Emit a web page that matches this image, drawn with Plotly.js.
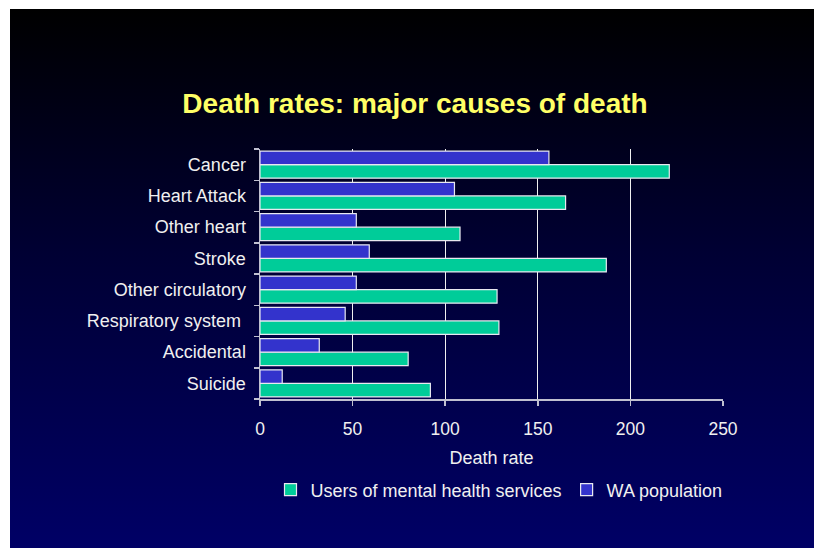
<!DOCTYPE html>
<html>
<head>
<meta charset="utf-8">
<script src="https://cdn.plot.ly/plotly-3.0.1.min.js"></script>
<style>
  html, body { margin: 0; padding: 0; background: #ffffff; }
  #bg { position: absolute; left: 10px; top: 9px; width: 804px; height: 539px;
        background: linear-gradient(to bottom, #000000 0%, #000033 45%, #000066 100%); }
  #chart { position: absolute; left: 0; top: 0; width: 814px; height: 548px; }
</style>
</head>
<body>
<div id="bg"></div>
<div id="chart"></div>
<script>
const categories = ["Cancer", "Heart Attack", "Other heart", "Stroke", "Other circulatory", "Respiratory system\u00a0", "Accidental", "Suicide"];
const usersMH = [221, 165, 108, 187, 128, 129, 80, 92];
const waPop = [156, 105, 52, 59, 52, 46, 32, 12];
const xTicks = [0, 50, 100, 150, 200, 250];
const seriesNames = ["Users of mental health services", "WA population"];

const font = "Arial, 'Liberation Sans', sans-serif";
const traces = [
  { type: "bar", orientation: "h", name: seriesNames[0], y: categories, x: usersMH,
    marker: { color: "#00CC99", line: { color: "#e8e8f0", width: 1.2 } } },
  { type: "bar", orientation: "h", name: seriesNames[1], y: categories, x: waPop,
    marker: { color: "#3333CC", line: { color: "#e8e8f0", width: 1.2 } } }
];

const layout = {
  width: 814, height: 548,
  paper_bgcolor: "rgba(0,0,0,0)", plot_bgcolor: "rgba(0,0,0,0)",
  margin: { l: 260, r: 91, t: 149, b: 149 },
  font: { family: font, color: "#f0f0f0", size: 18 },
  barmode: "group", bargap: 0.13, bargroupgap: 0,
  title: { text: "<b>Death rates: major causes of death</b>",
           font: { family: font, size: 28, color: "#FFFF66" },
           x: 415 / 814, xanchor: "center", xref: "container", y: 1 - 103 / 548, yanchor: "middle", yref: "container" },
  xaxis: { range: [0, 250], tickvals: xTicks, ticktext: xTicks.map(String),
           showgrid: true, gridcolor: "#f0f0f0", gridwidth: 1,
           showline: true, linecolor: "#c0c0d0", linewidth: 1.5,
           ticks: "outside", ticklen: 5, tickcolor: "#c0c0d0", tickwidth: 1.5,
           zeroline: false, tickfont: { size: 17.5, color: "#f0f0f0" }, ticklabelstandoff: 8,
           title: { text: "Death rate", font: { size: 18, color: "#f0f0f0" }, standoff: 14 } },
  yaxis: { type: "category", categoryorder: "array", categoryarray: categories.slice().reverse(),
           showgrid: false, showline: true, linecolor: "#c0c0d0", linewidth: 1.5,
           ticks: "outside", tickson: "boundaries", ticklen: 5, tickcolor: "#c0c0d0", tickwidth: 1.5,
           tickfont: { size: 18, color: "#f0f0f0" }, ticklabelstandoff: 9 },
  legend: { orientation: "h", x: 499 / 814, xanchor: "center", xref: "container",
            y: 1 - 490 / 548, yanchor: "middle", yref: "container",
            font: { size: 18, color: "#f0f0f0" }, bgcolor: "rgba(0,0,0,0)", itemwidth: 30 },
  showlegend: true
};

Plotly.newPlot("chart", traces, layout, { displayModeBar: false, staticPlot: true });
</script>
</body>
</html>
